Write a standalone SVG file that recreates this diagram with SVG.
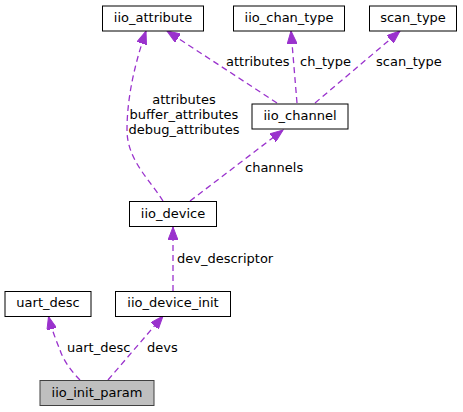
<svg xmlns="http://www.w3.org/2000/svg" width="463" height="412" viewBox="0 0 463 412">
<style>
.n rect{fill:#fff;stroke:#000;stroke-width:1}
.n.root rect{fill:#bfbfbf;stroke:#404040}
text{font-family:"DejaVu Sans","Liberation Sans",sans-serif;font-size:13px;fill:#000}
.n text{text-anchor:middle}
.e path{fill:none;stroke:#9a32cd;stroke-width:1.3;stroke-dasharray:6,4;marker-end:url(#ah)}
</style>
<defs>
<marker id="ah" markerUnits="userSpaceOnUse" markerWidth="14" markerHeight="10" refX="13" refY="5" orient="auto">
<path d="M0,0 L13,5 L0,10 z" fill="#9a32cd" stroke="#9a32cd" stroke-width="1"/>
</marker>
</defs>
<g id="edges" class="e">
<path d="M277,103 L167,31"/>
<path d="M297,103 L291,31"/>
<path d="M315,103 L400,31"/>
<path d="M163,201 C150,180 127,160 127,130 C127,95 136,60 146,31"/>
<path d="M190,201 L283,130"/>
<path d="M173,291 L173,227"/>
<path d="M80,380 C72,372 63,360 60,350 C56,340 52,330 48.5,316.5"/>
<path d="M108,380 L163,316"/>
<text x="226" y="66">attributes</text>
<text x="300" y="66">ch_type</text>
<text x="376" y="66">scan_type</text>
<text x="184" y="104" text-anchor="middle">attributes</text>
<text x="184" y="119" text-anchor="middle">buffer_attributes</text>
<text x="184" y="134" text-anchor="middle">debug_attributes</text>
<text x="245" y="172">channels</text>
<text x="177" y="263">dev_descriptor</text>
<text x="67" y="352">uart_desc</text>
<text x="147" y="352">devs</text>
</g>
<g id="iio_attribute" class="n"><rect x="102.5" y="6" width="101" height="25"/><text x="153" y="22">iio_attribute</text></g>
<g id="iio_chan_type" class="n"><rect x="233.5" y="6" width="111" height="25"/><text x="289" y="22">iio_chan_type</text></g>
<g id="scan_type" class="n"><rect x="369.5" y="6" width="87" height="25"/><text x="413" y="22">scan_type</text></g>
<g id="iio_channel" class="n"><rect x="252" y="104" width="96" height="25"/><text x="300" y="120">iio_channel</text></g>
<g id="iio_device" class="n"><rect x="129.5" y="201.5" width="87" height="25"/><text x="173" y="218">iio_device</text></g>
<g id="uart_desc" class="n"><rect x="5" y="291.5" width="86" height="25"/><text x="48" y="307">uart_desc</text></g>
<g id="iio_device_init" class="n"><rect x="115.5" y="291.5" width="115" height="25"/><text x="173" y="307">iio_device_init</text></g>
<g id="iio_init_param" class="n root"><rect x="40" y="380.5" width="114" height="25"/><text x="97" y="397">iio_init_param</text></g>
</svg>
